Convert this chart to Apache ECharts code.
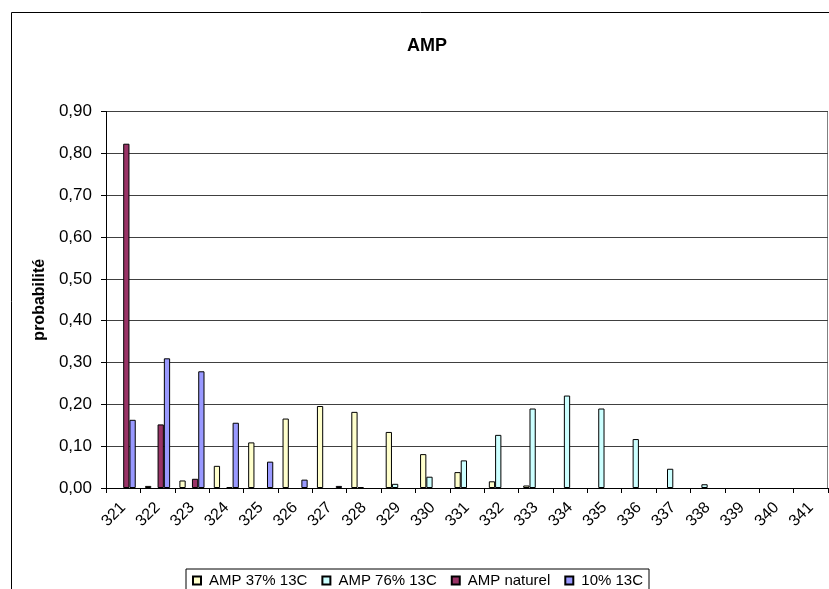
<!DOCTYPE html>
<html>
<head>
<meta charset="utf-8">
<script src="https://cdn.jsdelivr.net/npm/echarts@6/dist/echarts.min.js"></script>
<style>
html,body{margin:0;padding:0;background:#fff;}
#chart{width:829px;height:589px;}
</style>
</head>
<body>
<div id="chart"></div>
<script>
let masses=["321","322","323","324","325","326","327","328","329","330","331","332","333","334","335","336","337","338","339","340","341"];
let amp37=[0,0.005,0.018,0.053,0.109,0.166,0.196,0.182,0.134,0.081,0.038,0.016,0.006,0,0,0,0,0,0,0,0];
let amp76=[0,0,0,0,0,0,0,0.002,0.010,0.027,0.066,0.127,0.190,0.221,0.190,0.117,0.046,0.009,0,0,0];
let naturel=[0.823,0.152,0.022,0.002,0,0,0,0,0,0,0,0,0,0,0,0,0,0,0,0,0];
let dix=[0.163,0.310,0.279,0.156,0.063,0.020,0.005,0,0,0,0,0,0,0,0,0,0,0,0,0,0];
let yTicks=[0,0.1,0.2,0.3,0.4,0.5,0.6,0.7,0.8,0.9];

let myChart=echarts.init(document.getElementById("chart"));

// les barres à 0 ne sont pas dessinées (comme dans Excel)
function serie(name,data,color){
    return {
        name:name,
        type:'bar',
        data:data.map(function(v){return v===0?'-':v;}),
        barGap:'0%',
        barCategoryGap:'27%',
        itemStyle:{color:color,borderColor:'#000',borderWidth:1},
        emphasis:{disabled:true}
    };
}

let option={
    animation:false,
    textStyle:{fontFamily:'Liberation Sans, Arial, sans-serif'},
    title:{
        text:'AMP',
        left:402,
        top:32,
        textStyle:{fontSize:18,fontWeight:'bold',color:'#000'}
    },
    graphic:[{
        type:'rect',
        shape:{x:11.5,y:12.5,width:900,height:700},
        style:{fill:'none',stroke:'#000',lineWidth:1},
        silent:true
    },{
        type:'line',
        shape:{x1:106,y1:111.5,x2:827.5,y2:111.5},
        style:{stroke:'#808080',lineWidth:1}
    },{
        type:'line',
        shape:{x1:827.5,y1:111.5,x2:827.5,y2:488},
        style:{stroke:'#808080',lineWidth:1}
    }],
    legend:{
        left:186,
        top:569,
        orient:'horizontal',
        itemWidth:8,
        itemHeight:8,
        itemGap:14,
        padding:[4,6,6,6],
        borderColor:'#000',
        borderWidth:1,
        icon:'rect',
        textStyle:{fontSize:15,color:'#000',padding:[0,0,0,3]},
        data:['AMP 37% 13C','AMP 76% 13C','AMP naturel','10% 13C']
    },
    grid:{left:106,right:1,top:111.5,bottom:101,containLabel:false},
    xAxis:{
        type:'category',
        data:masses,
        axisLine:{lineStyle:{color:'#000'}},
        axisTick:{show:true,length:5,lineStyle:{color:'#000'},alignWithLabel:false},
        axisLabel:{rotate:45,fontSize:16,color:'#000',margin:17,interval:0}
    },
    yAxis:{
        type:'value',
        min:yTicks[0],
        max:yTicks[yTicks.length-1],
        interval:0.1,
        name:'probabilité',
        nameLocation:'middle',
        nameGap:57,
        nameRotate:90,
        nameTextStyle:{fontSize:16,fontWeight:'bold',color:'#000'},
        axisLine:{show:true,lineStyle:{color:'#000'}},
        axisTick:{show:true,length:5,inside:false,lineStyle:{color:'#000'}},
        axisLabel:{
            fontSize:17,
            color:'#000',
            margin:14,
            formatter:function(v){return v.toFixed(2).replace('.',',');}
        },
        splitLine:{lineStyle:{color:'#404040',width:1}}
    },
    series:[
        serie('AMP 37% 13C',amp37,'#FFFFCC'),
        serie('AMP 76% 13C',amp76,'#CCFFFF'),
        serie('AMP naturel',naturel,'#993366'),
        serie('10% 13C',dix,'#9999FF')
    ]
};
myChart.setOption(option);
</script>
</body>
</html>
